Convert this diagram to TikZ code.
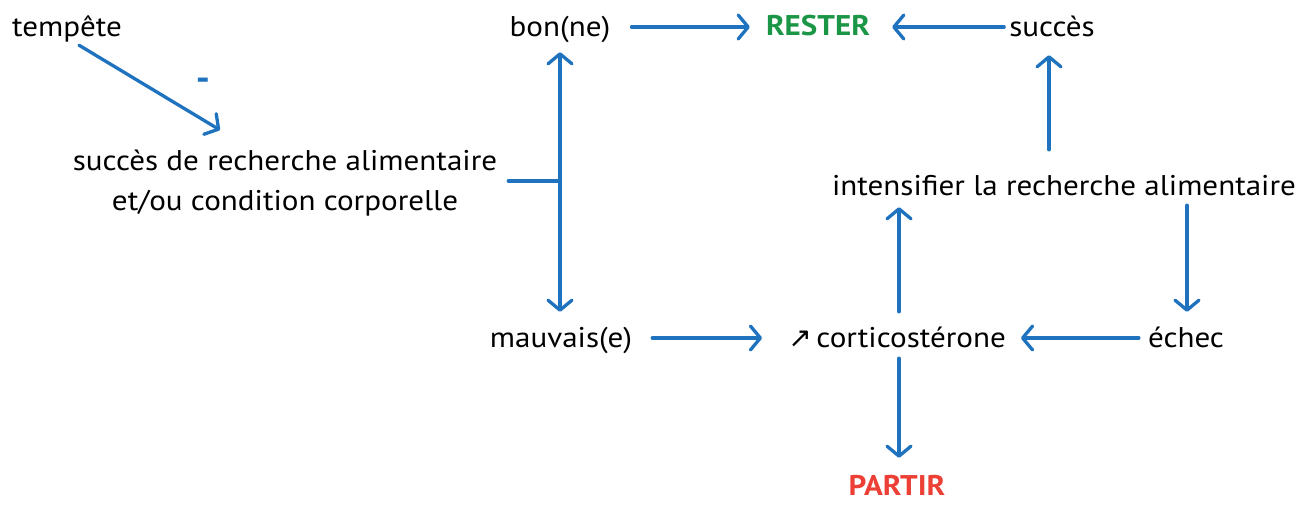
\documentclass[tikz,border=0pt]{standalone}
\usepackage{fontspec}
\setmainfont{PT Sans}[FakeStretch=1.09]
\newfontfamily\symfont{DejaVu Sans}
\usetikzlibrary{arrows.meta,calc}
\definecolor{arrowblue}{RGB}{30,114,190}
\definecolor{resterGreen}{RGB}{26,150,70}
\definecolor{partirRed}{RGB}{236,64,54}
\begin{document}
\begin{tikzpicture}[x=1pt,y=-1pt,
  lbl/.style={inner sep=0pt, text height=18pt, text depth=0pt, font=\fontsize{28.5}{38}\selectfont},
  boldlbl/.style={lbl, font=\fontsize{28.5}{38}\selectfont\bfseries},
  conn/.style={draw=arrowblue, line width=3.3pt, line cap=round},
  arr/.style={conn, -{Straight Barb[length=10pt,width=24pt,round]}},
  darr/.style={conn, {Straight Barb[length=10pt,width=24pt,round]}-{Straight Barb[length=10pt,width=24pt,round]}}
]
\useasboundingbox (0,0) rectangle (1306,504);

% nodes
\node[lbl] (tempete) at (67,27) {tempête};
\node[text=arrowblue, inner sep=0pt, font=\fontsize{36}{36}\selectfont\bfseries] (minus) at (203,84) {-};
\node[inner sep=0pt, align=center, anchor=north, font=\fontsize{28.5}{40}\selectfont] (food) at (285,150)
  {succès de recherche alimentaire\\et/ou condition corporelle};
\node[lbl] (bon) at (560,27) {bon(ne)};
\node[boldlbl, text=resterGreen] (rester) at (818,26) {RESTER};
\node[lbl] (succes) at (1052,27) {succès};
\node[lbl] (intens) at (1064,186) {intensifier la recherche alimentaire};
\node[lbl] (mauvais) at (561,338) {mauvais(e)};
\node[lbl] (cortico) at (897,338) {{\symfont\fontsize{28}{28}\selectfont ↗}\,corticostérone};
\node[lbl] (echec) at (1186,338) {échec};
\node[boldlbl, text=partirRed] (partir) at (897,486) {PARTIR};

\coordinate (tipA) at (220,130);
\coordinate (junc) at (560,181);

% connectors
\draw[arr] ([xshift=12pt,yshift=-9pt]tempete.south) -- (tipA);
\draw[arr, shorten <=21pt, shorten >=16pt] (bon.east) -- (bon.east -| rester.west);
\draw[arr, shorten <=5pt, shorten >=22pt] (succes.west) -- (succes.west -| rester.east);
\draw[arr, shorten <=27pt, shorten >=19pt] ([xshift=-3pt]succes.south |- intens.north) -- ([xshift=-3pt]succes.south);
\draw[arr, shorten <=10pt, shorten >=17pt] ([xshift=1pt]echec.north |- intens.south) -- ([xshift=1pt]echec.north);
\draw[arr, shorten <=9pt, shorten >=15pt] (echec.west) -- (cortico.east);
\draw[arr, shorten <=20pt, shorten >=26pt] (mauvais.east) -- (cortico.west);
\draw[arr, shorten <=17pt, shorten >=12pt] ([xshift=2pt]cortico.north) -- ([xshift=2pt]cortico.north |- intens.south);
\draw[arr, shorten <=11pt, shorten >=19pt] ([xshift=2pt]cortico.south) -- ([xshift=2pt]cortico.south |- partir.north);
\draw[darr, shorten <=16pt, shorten >=17pt] (bon.south) -- (bon.south |- mauvais.north);
\draw[conn, shorten <=11pt] (food.east |- junc) -- (junc);
\end{tikzpicture}
\end{document}
